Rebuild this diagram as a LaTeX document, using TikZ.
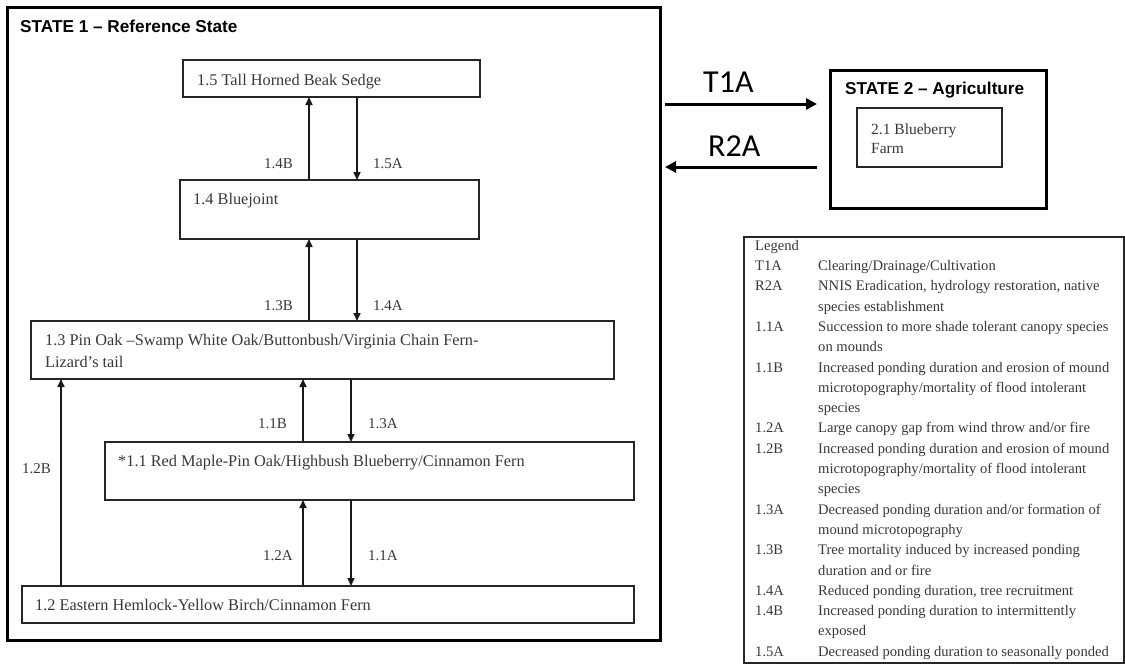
\documentclass[tikz,border=0pt]{standalone}
\usepackage{fontspec}
\setmainfont{Liberation Serif}
\newfontfamily\arialf{Liberation Sans}
\newfontfamily\calibf{Carlito}
\usetikzlibrary{arrows.meta}
\definecolor{txt}{HTML}{383838}
\begin{document}
\begin{tikzpicture}[x=1pt,y=-1pt,
  box/.style={draw=black!85, line width=1.4pt, inner sep=0pt, outer sep=0pt, anchor=north west},
  statebox/.style={draw=black, line width=3pt, inner sep=0pt, outer sep=0pt, anchor=north west},
  btxt/.style={font=\fontsize{16.3}{22}\selectfont, text=txt, inner sep=0pt, anchor=base west, align=left},
  lbl/.style={font=\fontsize{15}{18}\selectfont, text=txt, inner sep=0pt, anchor=base west},
  ttl/.style={font=\arialf\bfseries\fontsize{17.2}{20}\selectfont, inner sep=0pt, anchor=base west},
  tlbl/.style={font=\calibf\fontsize{32}{36}\selectfont, inner sep=0pt, anchor=base west},
  arr/.style={line width=1.6pt, draw=black!90, -{Triangle[length=8pt,width=7pt]}},
  bigarr/.style={line width=3pt, -{Triangle[length=11pt,width=11pt]}}
]
\useasboundingbox (0,0) rectangle (1125,664);

% State 1
\node[statebox, minimum width=653pt, minimum height=633pt] (s1) at (7,7) {};
\node[ttl] (t1) at (20,32) {STATE 1 – Reference State};

% community boxes
\node[box, minimum width=297pt, minimum height=37pt] (b15) at (183,60) {};
\node[box, minimum width=299pt, minimum height=59pt] (b14) at (180,180) {};
\node[box, minimum width=583pt, minimum height=58pt] (b13) at (31,321) {};
\node[box, minimum width=529pt, minimum height=58pt] (b11) at (105,442) {};
\node[box, minimum width=612pt, minimum height=37pt] (b12) at (22,586) {};

\node[btxt] (x15) at (197,85) {1.5 Tall Horned Beak Sedge};
\node[btxt] (x14) at (193,204) {1.4 Bluejoint};
\node[btxt] (x13) at (45,367) {1.3 Pin Oak –Swamp White Oak/Buttonbush/Virginia Chain Fern-\\Lizard’s tail};
\node[btxt] (x11) at (118,466) {*1.1 Red Maple-Pin Oak/Highbush Blueberry/Cinnamon Fern};
\node[btxt] (x12) at (35,610) {1.2 Eastern Hemlock-Yellow Birch/Cinnamon Fern};

% columns for connectors
\coordinate (cA) at (309,0);
\coordinate (cB) at (357,0);
\coordinate (cC) at (303,0);
\coordinate (cD) at (351,0);
\coordinate (cE) at (61,0);

\draw[arr] (b14.north -| cA) -- (b15.south -| cA);
\draw[arr] (b15.south -| cB) -- (b14.north -| cB);
\draw[arr] (b13.north -| cA) -- (b14.south -| cA);
\draw[arr] (b14.south -| cB) -- (b13.north -| cB);
\draw[arr] (b11.north -| cC) -- (b13.south -| cC);
\draw[arr] (b13.south -| cD) -- (b11.north -| cD);
\draw[arr] (b12.north -| cC) -- (b11.south -| cC);
\draw[arr] (b11.south -| cD) -- (b12.north -| cD);
\draw[arr] (b12.north -| cE) -- (b13.south -| cE);

\node[lbl] (l14B) at (264,168) {1.4B};
\node[lbl] (l15A) at (373,168) {1.5A};
\node[lbl] (l13B) at (264,310) {1.3B};
\node[lbl] (l14A) at (373,310) {1.4A};
\node[lbl] (l11B) at (258,428) {1.1B};
\node[lbl] (l13A) at (368,428) {1.3A};
\node[lbl] (l12B) at (22,473) {1.2B};
\node[lbl] (l12A) at (263,560) {1.2A};
\node[lbl] (l11A) at (368,560) {1.1A};

% State 2
\node[statebox, minimum width=216pt, minimum height=138pt] (s2) at (830,70) {};
\node[ttl] (t2) at (845,94) {STATE 2 – Agriculture};
\node[box, minimum width=145pt, minimum height=59pt] (b21) at (857,108) {};
\node[btxt, font=\fontsize{15.5}{19}\selectfont] (x21) at (871,153) {2.1 Blueberry\\Farm};

% transitions
\coordinate (yT) at (0,104);
\coordinate (yR) at (0,167);
\draw[bigarr, shorten <=5pt, shorten >=13pt] (s1.east |- yT) -- (s2.west |- yT);
\draw[bigarr, shorten <=13pt, shorten >=5pt] (s2.west |- yR) -- (s1.east |- yR);
\node[tlbl] (lT1A) at (703,92) {T1A};
\node[tlbl] (lR2A) at (708,156) {R2A};

% legend
\node[draw=black!85, line width=1.6pt, inner sep=0pt, anchor=north west, minimum width=380pt, minimum height=426pt] (leg) at (743,236) {};
\node[anchor=north west, inner sep=0pt, text=txt] (legt) at (755,235.8) {\fontsize{14.6}{20.3}\selectfont
\begin{tabular}{@{}p{63pt}@{}l@{}}
Legend & \\
T1A & Clearing/Drainage/Cultivation\\
R2A & NNIS Eradication, hydrology restoration, native\\
 & species establishment\\
1.1A & Succession to more shade tolerant canopy species\\
 & on mounds\\
1.1B & Increased ponding duration and erosion of mound\\
 & microtopography/mortality of flood intolerant\\
 & species\\
1.2A & Large canopy gap from wind throw and/or fire\\
1.2B & Increased ponding duration and erosion of mound\\
 & microtopography/mortality of flood intolerant\\
 & species\\
1.3A & Decreased ponding duration and/or formation of\\
 & mound microtopography\\
1.3B & Tree mortality induced by increased ponding\\
 & duration and or fire\\
1.4A & Reduced ponding duration, tree recruitment\\
1.4B & Increased ponding duration to intermittently\\
 & exposed\\
1.5A & Decreased ponding duration to seasonally ponded
\end{tabular}};
\end{tikzpicture}
\end{document}
